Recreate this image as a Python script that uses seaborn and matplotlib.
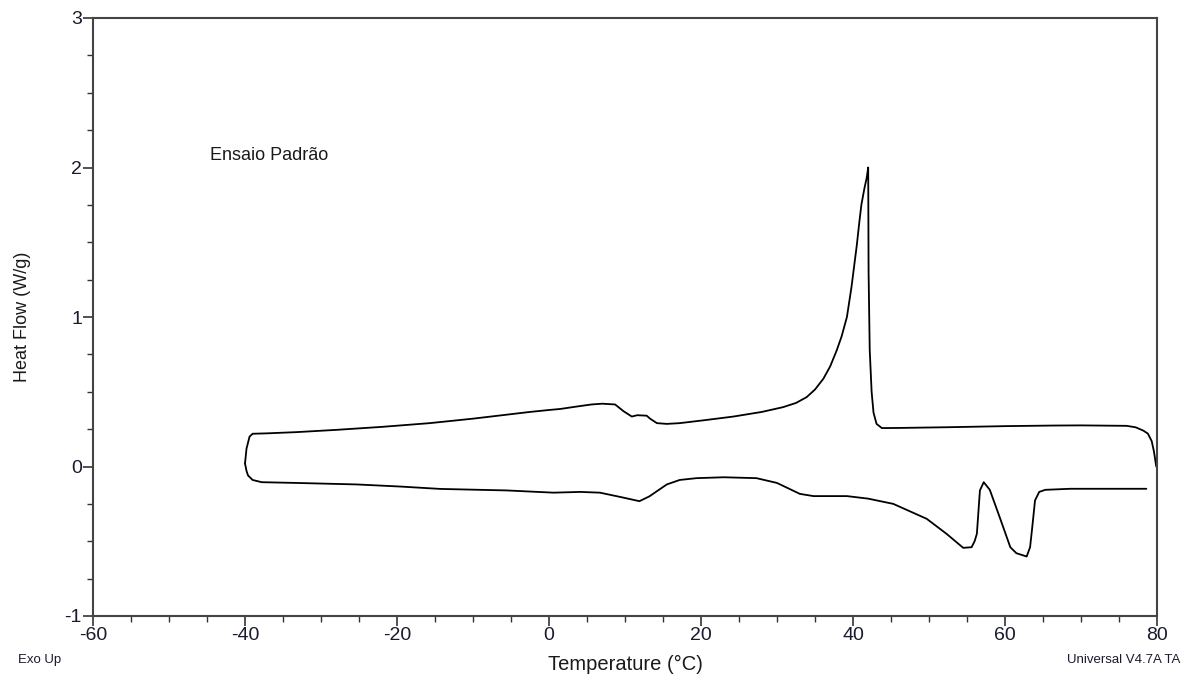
import matplotlib
matplotlib.use("Agg")
import matplotlib.pyplot as plt
import seaborn as sns
import pandas as pd
from matplotlib.ticker import MultipleLocator

# Cooling segment (80 -> -40 °C)
cool_T = [79.9, 79.6, 79.3, 78.8, 78.2, 77.2, 76.0, 70.0, 66.4, 60.0, 52.8, 46.2, 43.8,
          43.1, 42.7, 42.45, 42.2, 42.05, 42.0, 41.8, 41.5, 41.1, 40.8, 40.5, 40.1, 39.8, 39.2, 38.5,
          37.85, 37.0, 36.1, 35.0, 33.9, 32.5, 30.8, 28.0, 24.25, 20.5, 17.2, 15.5,
          14.2, 13.3, 12.85, 11.6, 10.9, 9.8, 8.7, 7.0, 5.6, 3.5, 1.5, 0.0, -2.5,
          -5.0, -10.0, -15.7, -22.0, -28.0, -33.2, -37.0, -39.0, -39.4, -39.8, -40.0]
cool_HF = [0.0, 0.10, 0.17, 0.22, 0.24, 0.262, 0.272, 0.275, 0.274, 0.27, 0.263, 0.258, 0.257,
           0.285, 0.36, 0.50, 0.78, 1.30, 2.0, 1.93, 1.86, 1.75, 1.62, 1.48, 1.32, 1.20, 1.0, 0.87,
           0.776, 0.67, 0.587, 0.515, 0.464, 0.425, 0.397, 0.365, 0.334, 0.31, 0.29, 0.285,
           0.29, 0.32, 0.34, 0.343, 0.334, 0.37, 0.415, 0.42, 0.415, 0.40, 0.385, 0.378, 0.365,
           0.35, 0.32, 0.29, 0.265, 0.245, 0.23, 0.222, 0.219, 0.20, 0.12, 0.02]

# Heating segment (-40 -> 79 °C)
heat_T = [-40.0, -39.8, -39.6, -39.0, -37.8, -33.2, -25.3, -19.6, -14.3, -5.6, 0.6, 4.1,
          6.7, 9.5, 11.9, 13.2, 15.5, 17.2, 19.4, 23.0, 27.3, 30.0, 33.0, 34.8, 39.2, 42.0,
          45.3, 49.7, 52.3, 54.5, 55.6, 56.0, 56.3, 56.7, 57.2, 58.0, 59.3, 60.7, 61.5,
          62.85, 63.3, 63.6, 63.95, 64.5, 65.3, 68.6, 78.6]
heat_HF = [0.02, -0.03, -0.06, -0.09, -0.105, -0.11, -0.12, -0.134, -0.15, -0.16, -0.175, -0.17,
           -0.175, -0.205, -0.232, -0.2, -0.12, -0.09, -0.078, -0.072, -0.078, -0.11, -0.183, -0.198, -0.198, -0.215,
           -0.25, -0.35, -0.45, -0.544, -0.54, -0.50, -0.45, -0.16, -0.105, -0.156, -0.339, -0.54, -0.58,
           -0.602, -0.54, -0.40, -0.227, -0.17, -0.156, -0.149, -0.149]

x_ticks = [-60, -40, -20, 0, 20, 40, 60, 80]
y_ticks = [-1, 0, 1, 2, 3]

sns.set_theme(style="white")
plt.rcParams['font.family'] = ['Liberation Sans', 'DejaVu Sans']
plt.rcParams['axes.unicode_minus'] = False

fig = plt.figure(figsize=(11.87, 6.75), dpi=100)
ax = fig.add_axes([93/1187, 1 - 616/675, (1157 - 93)/1187, (616 - 18)/675])

cool = pd.DataFrame({"T": cool_T, "HF": cool_HF})
heat = pd.DataFrame({"T": heat_T, "HF": heat_HF})
sns.lineplot(data=cool, x="T", y="HF", sort=False, estimator=None, color="black", lw=1.3, ax=ax)
sns.lineplot(data=heat, x="T", y="HF", sort=False, estimator=None, color="black", lw=1.3, ax=ax)

ax.set_xlim(-60, 80)
ax.set_ylim(-1, 3)
ax.set_xticks(x_ticks)
ax.set_yticks(y_ticks)
ax.xaxis.set_minor_locator(MultipleLocator(5))
ax.yaxis.set_minor_locator(MultipleLocator(0.25))
ax.tick_params(which="both", direction="out", bottom=True, left=True, top=False, right=False,
               colors="#333333", labelcolor="#1a1a2e", labelsize=14)
ax.tick_params(which="major", length=7, width=1.2, pad=1)
ax.tick_params(which="minor", length=4, width=1.0)
for s in ax.spines.values():
    s.set_color("#444444")
    s.set_linewidth(1.5)

ax.set_xlabel("Temperature (°C)", fontsize=14.5, color="#1a1a1a", labelpad=8)
ax.set_ylabel("Heat Flow (W/g)", fontsize=13, color="#1a1a1a", labelpad=24)

ax.text(-44.6, 2.08, "Ensaio Padrão", fontsize=13, color="#1a1a1a", va="center", ha="left")
fig.text(18/1187, 1 - 660/675, "Exo Up", fontsize=9.5, color="#1a1a2e", va="center", ha="left")
fig.text(1180/1187, 1 - 660/675, "Universal V4.7A TA", fontsize=9.5, color="#1a1a2e", va="center", ha="right")

fig.savefig("out.png", dpi=100, facecolor="white")
